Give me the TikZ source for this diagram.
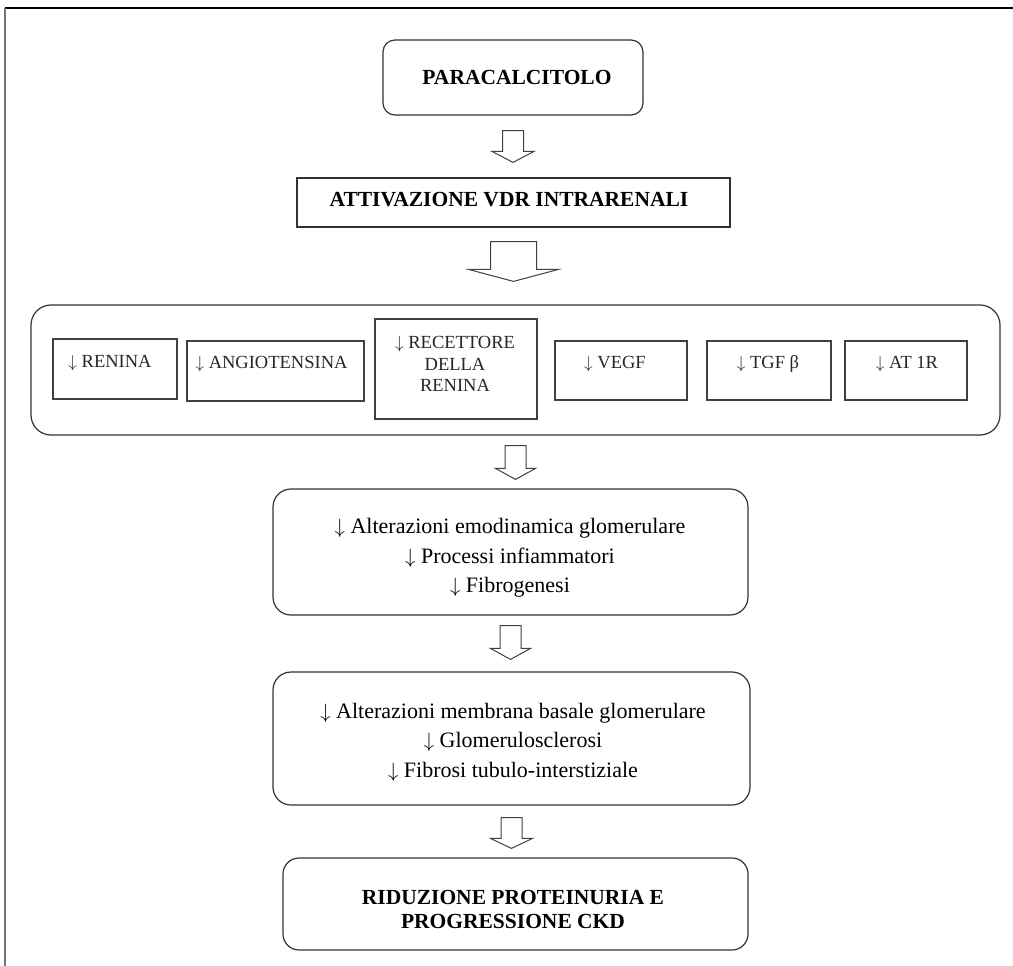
\documentclass[tikz,border=0pt]{standalone}
\usepackage{fontspec}
\setmainfont{Liberation Serif}
\usetikzlibrary{calc}
\newcommand\dn{\ensuremath{\downarrow}}
\tikzset{
  line/.style={draw=black!80, line width=1.2pt},
  rbox/.style={line, rounded corners=13pt, inner sep=0pt},
  sbox/.style={line, inner sep=0pt},
  ibox/.style={draw=black!75, line width=1.1pt, inner sep=0pt},
  boldtxt/.style={font=\fontsize{21.5}{24}\selectfont\bfseries, align=center, inner sep=0pt},
  bodytxt/.style={font=\fontsize{22}{29.5}\selectfont, align=center, inner sep=0pt},
  itext/.style={font=\fontsize{18.5}{21.5}\selectfont, align=center, inner sep=0pt, text=black!85},
  barrow/.style={draw=black!75, line width=1pt, fill=white, line join=miter},
}
% #1 source node, #2 target node, #3 shaft half width, #4 head half width,
% #5 gap below source, #6 gap above target, #7 head length
\newcommand\blockarrow[7]{%
  \draw[barrow] let \p1=(#1.south), \p2=(#2.north) in
    (\x1-#3pt,\y1-#5pt) -- (\x1+#3pt,\y1-#5pt) -- (\x1+#3pt,\y2+#6pt+#7pt)
    -- (\x1+#4pt,\y2+#6pt+#7pt) -- (\x1,\y2+#6pt) -- (\x1-#4pt,\y2+#6pt+#7pt)
    -- (\x1-#3pt,\y2+#6pt+#7pt) -- cycle;}
\begin{document}
\begin{tikzpicture}[x=1pt,y=1pt]
\useasboundingbox (0,0) rectangle (1013,-966);
% partial outer frame
\coordinate (ftl) at (5,-8);
\coordinate (ftr) at (1013,-8);
\coordinate (fbl) at (5,-966);
\draw[black, line width=2pt] (ftl) -- (ftr);
\draw[black!55, line width=1.6pt] (ftl) -- (fbl);

% top boxes
\node[rbox, rounded corners=12pt, minimum width=260pt, minimum height=75pt] (p) at (513,-77.5) {};
\node[boldtxt] (pt) at (517,-77.5) {PARACALCITOLO};

\node[sbox, minimum width=433pt, minimum height=49pt] (a) at (513.5,-202.5) {};
\node[boldtxt] (at) at (509,-200) {ATTIVAZIONE VDR INTRARENALI};

% container
\node[rbox, rounded corners=20pt, minimum width=969pt, minimum height=130pt] (c) at (515.5,-370) {};

% inner boxes
\node[ibox, minimum width=124pt, minimum height=60pt] (r1) at (115,-369) {};
\node[itext] (r1t) at (110,-363) {\dn{} RENINA};
\node[ibox, minimum width=177pt, minimum height=60pt] (r2) at (275.5,-371) {};
\node[itext] (r2t) at (271.5,-364) {\dn{} ANGIOTENSINA};
\node[ibox, minimum width=162pt, minimum height=100pt] (r3) at (456,-369) {};
\node[itext] (r3t) at (455,-364) {\dn{} RECETTORE\\DELLA\\RENINA};
\node[ibox, minimum width=132pt, minimum height=59pt] (r4) at (621,-370.5) {};
\node[itext] (r4t) at (615,-364) {\dn{} VEGF};
\node[ibox, minimum width=124pt, minimum height=59pt] (r5) at (769,-370.5) {};
\node[itext] (r5t) at (768,-364) {\dn{} TGF β};
\node[ibox, minimum width=122pt, minimum height=59pt] (r6) at (906,-370.5) {};
\node[itext] (r6t) at (907,-364) {\dn{} AT 1R};

% lower boxes
\node[rbox, rounded corners=18pt, minimum width=475pt, minimum height=126pt] (b1) at (510.5,-552) {};
\node[bodytxt] (b1t) at (510,-558) {\dn{} Alterazioni emodinamica glomerulare\\\dn{} Processi infiammatori\\\dn{} Fibrogenesi};

\node[rbox, rounded corners=18pt, minimum width=477pt, minimum height=133pt] (b2) at (511.5,-738.5) {};
\node[bodytxt] (b2t) at (513,-742) {\dn{} Alterazioni membrana basale glomerulare\\\dn{} Glomerulosclerosi\\\dn{} Fibrosi tubulo-interstiziale};

\node[rbox, rounded corners=16pt, minimum width=465pt, minimum height=92pt] (f) at (515.5,-904) {};
\node[boldtxt] (ft) at (513,-909) {RIDUZIONE PROTEINURIA E\\PROGRESSIONE CKD};

% block arrows
\blockarrow{p}{a}{10.5}{21}{15}{15}{11}
\blockarrow{a}{c}{23}{45}{14}{23}{12}
\blockarrow{c}{b1}{10.5}{20}{10}{9}{11}
\blockarrow{b1}{b2}{10.5}{20}{10}{12}{11}
\blockarrow{b2}{f}{10.5}{21}{12}{9}{10}
\end{tikzpicture}
\end{document}
